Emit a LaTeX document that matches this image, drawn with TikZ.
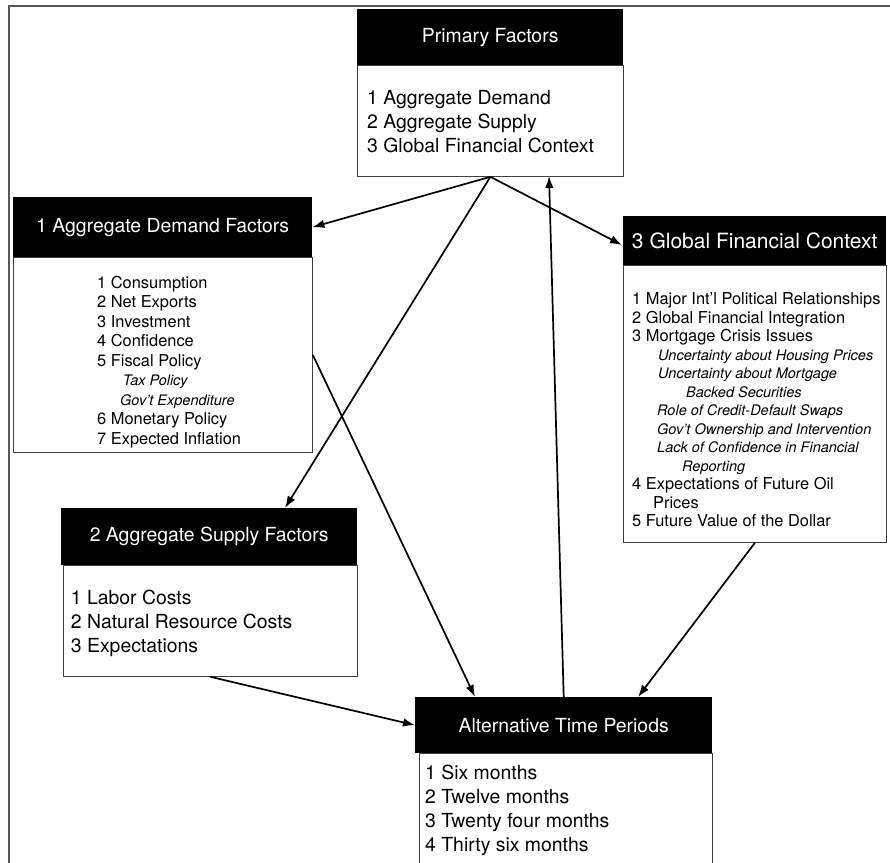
\documentclass[tikz,border=0pt]{standalone}
\usepackage{fontspec}
\setmainfont{TeX Gyre Heros}
\usetikzlibrary{arrows.meta}

\newcommand{\itline}[2]{\hspace*{#1}{\itshape\fontsize{14.5bp}{19bp}\selectfont #2}}

\begin{document}
\begin{tikzpicture}[x=1bp, y=-1bp, >={Latex[length=12bp,width=8.5bp]},
  head/.style={fill=black, text=white, inner sep=0pt, anchor=north west, font=\fontsize{19.4bp}{24bp}\selectfont},
  body/.style={draw=black!75, line width=0.8bp, fill=white, inner sep=0pt, anchor=north west},
  list/.style={inner sep=0pt, anchor=north west, align=left},
  big/.style={font=\fontsize{19.4bp}{24bp}\selectfont},
  small/.style={font=\fontsize{16.4bp}{#1}\selectfont},
  arr/.style={->, line width=1.7bp}]

\useasboundingbox (0,0) rectangle (890,863) ;
\draw[black!65, line width=1.6bp] (8.7,863) -- (8.7,5.7) -- (890,5.7) ;

\node[body, minimum width=266bp, minimum height=111bp] (primbody) at (357,65) {} ;
\node[head, minimum width=266bp, minimum height=56bp] (primhead) at (357,9) {Primary Factors} ;
\node[list, big] (primlist) at (367,89.7) {1 Aggregate Demand\\2 Aggregate Supply\\3 Global Financial Context} ;

\node[body, minimum width=299bp, minimum height=195bp] (dembody) at (13,257) {} ;
\node[head, minimum width=299bp, minimum height=60bp] (demhead) at (13,197) {1 Aggregate Demand Factors} ;
\node[list, small=19.5bp] (demlist) at (97,275.8) {1 Consumption\\2 Net Exports\\3 Investment\\4 Confidence\\5 Fiscal Policy\\
  \itline{25.7bp}{Tax Policy}\\\itline{23bp}{Gov't Expenditure}\\6 Monetary Policy\\7 Expected Inflation} ;

\node[body, minimum width=263bp, minimum height=277bp] (globbody) at (623,265) {} ;
\node[head, minimum width=263bp, minimum height=49bp, font=\fontsize{21bp}{24bp}\selectfont] (globhead) at (623,216) {\raisebox{-4bp}{3 Global Financial Context}} ;
\node[list, small=18.5bp] (globlist) at (632,292.4) {1 Major Int'l Political Relationships\\2 Global Financial Integration\\3 Mortgage Crisis Issues\\
  \itline{26bp}{Uncertainty about Housing Prices}\\\itline{26bp}{Uncertainty about Mortgage}\\\itline{54bp}{Backed Securities}\\
  \itline{25bp}{Role of Credit-Default Swaps}\\\itline{25bp}{Gov't Ownership and Intervention}\\\itline{25bp}{Lack of Confidence in Financial}\\
  \itline{50bp}{Reporting}\\4 Expectations of Future Oil\\\hspace*{21bp}Prices\\5 Future Value of the Dollar} ;

\node[body, minimum width=294bp, minimum height=111bp] (supbody) at (63,565) {} ;
\node[head, minimum width=296bp, minimum height=57bp] (suphead) at (61,508) {2 Aggregate Supply Factors} ;
\node[list, big] (suplist) at (70.7,589.7) {1 Labor Costs\\2 Natural Resource Costs\\3 Expectations} ;

\node[body, minimum width=293bp, minimum height=130bp] (altbody) at (419,753) {} ;
\node[head, minimum width=297bp, minimum height=56bp] (althead) at (415,697) {Alternative Time Periods} ;
\node[list, big] (altlist) at (425,764.7) {1 Six months\\2 Twelve months\\3 Twenty four months\\4 Thirty six months} ;

\coordinate (suptip) at (285,508) ;
\coordinate (primup) at (549,176) ;
\coordinate (altleft) at (475,697) ;
\coordinate (altright) at (638,697) ;
\coordinate (globin) at (622,245) ;

\draw[arr] (primbody.south) -- (demhead.east) ;
\draw[arr] (primbody.south) -- (globin) ;
\draw[arr] (primbody.south) -- (suptip) ;
\draw[arr] (althead.north) -- (primup) ;
\draw[arr] (dembody.east) -- (altleft) ;
\draw[arr] (globbody.south) -- (altright) ;
\draw[arr] (supbody.south) -- (althead.west) ;
\end{tikzpicture}
\end{document}
